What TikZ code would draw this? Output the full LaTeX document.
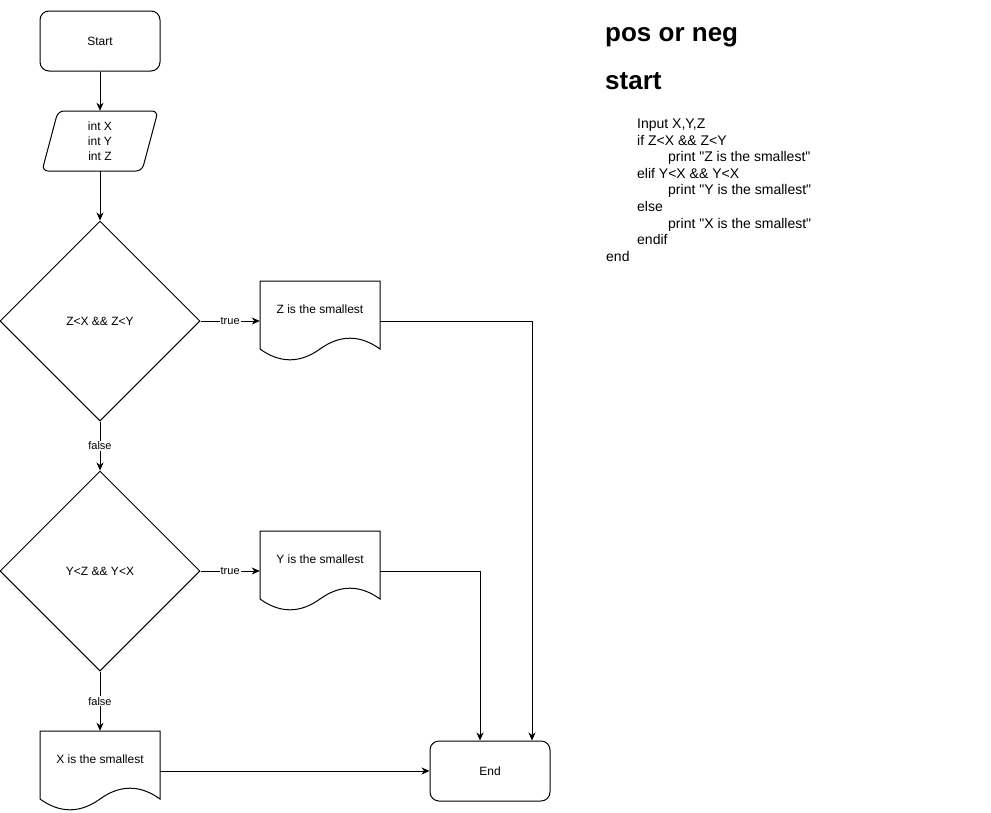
\documentclass[tikz,border=0pt]{standalone}
\usepackage{fontspec}
\setmainfont{Liberation Sans}
\usetikzlibrary{shapes.geometric,arrows.meta,calc}

% outline of a document symbol (120 x 80) around the centre of a node
\newcommand\docoutline[1]{%
  \draw[line width=1pt,shift={(#1.center)}]
    (-60,-40) -- (60,-40) -- (60,28)
    .. controls (40,13.6) and (20,13.6) .. (0,28)
    .. controls (-20,42.4) and (-40,42.4) .. (-60,28) -- cycle;}
\newcommand\dq{\textquotedbl}

\begin{document}
\begin{tikzpicture}[x=1pt,y=-1pt,
  every node/.style={font=\fontsize{12}{15}\selectfont},
  flow/.style={line width=1pt,-{Stealth[length=8pt,width=7pt,inset=2.5pt]}},
  terminal/.style={draw,line width=1pt,rounded corners=9pt,minimum width=120pt,minimum height=60pt,inner sep=0pt},
  decision/.style={draw,line width=1pt,diamond,shape aspect=1,minimum width=200pt,minimum height=200pt,inner sep=0pt},
  docbox/.style={minimum width=120pt,minimum height=80pt,inner sep=0pt,
    label={[font=\fontsize{12}{15}\selectfont,yshift=12pt]center:#1}},
  iobox/.style={minimum width=116pt,minimum height=60pt,inner sep=0pt,align=center},
  lbl/.style={fill=white,inner sep=1pt,font=\fontsize{11}{13}\selectfont},
  heading/.style={anchor=base west,inner sep=0pt,font=\fontsize{26}{30}\selectfont\bfseries},
  code/.style={anchor=base west,inner sep=0pt,font=\fontsize{14}{17}\selectfont}
]
\fill[white] (0,0) rectangle (991,812);
\useasboundingbox (0,0) rectangle (991,812);

% flowchart
\node[terminal] (start) at (100,41) {Start};
\node[iobox] (inp) at (100,141) {int X\\int Y\\int Z};
\draw[line width=1pt,rounded corners=6pt,shift={(inp.center)}]
  (-42,-30) -- (58,-30) -- (42,30) -- (-58,30) -- cycle;
\node[decision] (d1) at (100,321) {Z<X \&\& Z<Y};
\node[docbox={Z is the smallest}] (zdoc) at (320,321) {};
\docoutline{zdoc}
\node[decision] (d2) at (100,571) {Y<Z \&\& Y<X};
\node[docbox={Y is the smallest}] (ydoc) at (320,571) {};
\docoutline{ydoc}
\node[docbox={X is the smallest}] (xdoc) at (100,771) {};
\docoutline{xdoc}
\node[terminal] (end) at (490,771) {End};
\coordinate (ez) at ($(end.north)+(42,0)$);
\coordinate (ey) at ($(end.north)+(-10,0)$);

\draw[flow] (start) -- (inp);
\draw[flow] (inp) -- (d1);
\draw[flow] (d1) -- node[lbl]{true} (zdoc);
\draw[flow] (d1) -- node[lbl]{false} (d2);
\draw[flow] (d2) -- node[lbl]{true} (ydoc);
\draw[flow] (d2) -- node[lbl]{false} (xdoc);
\draw[flow] (zdoc.east) -| (ez);
\draw[flow] (ydoc.east) -| (ey);
\draw[flow] (xdoc) -- (end);

% pseudocode
\node[heading] (h1) at (605,41) {pos or neg};
\node[heading] (h2) at (605,89) {start};
\node[code] (c1) at (637,128.5) {Input X,Y,Z};
\node[code] (c2) at (637,145.1) {if Z<X \&\& Z<Y};
\node[code] (c3) at (668,161.7) {print \dq Z is the smallest\dq};
\node[code] (c4) at (637,178.3) {elif Y<X \&\& Y<X};
\node[code] (c5) at (668,194.9) {print \dq Y is the smallest\dq};
\node[code] (c6) at (637,211.5) {else};
\node[code] (c7) at (668,228.1) {print \dq X is the smallest\dq};
\node[code] (c8) at (637,244.7) {endif};
\node[code] (c9) at (606,261.3) {end};
\end{tikzpicture}
\end{document}
